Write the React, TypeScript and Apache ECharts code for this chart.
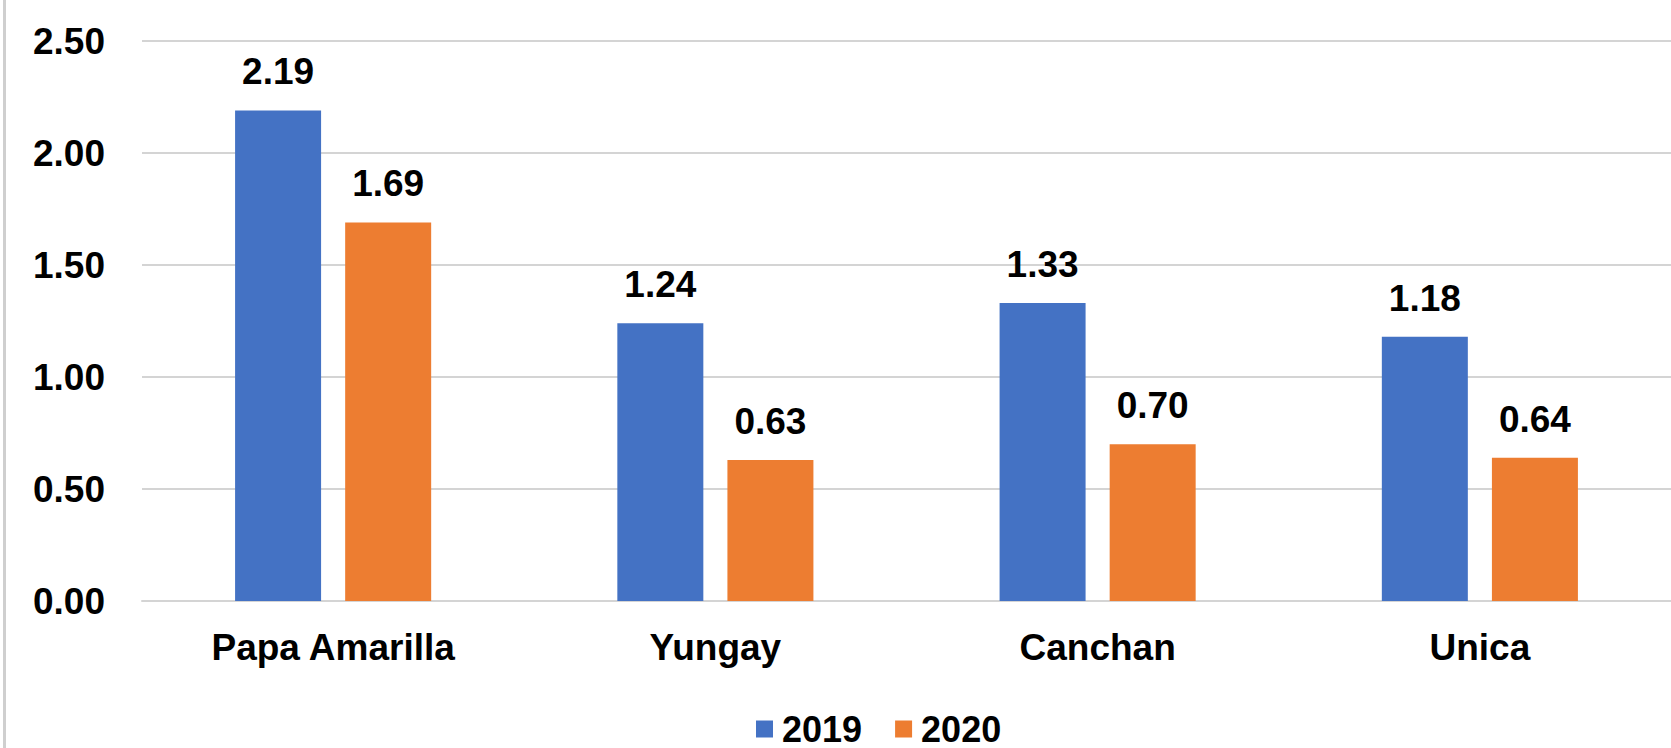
import React, { useEffect, useRef } from "react";
import * as echarts from "echarts";

const categories = ["Papa Amarilla", "Yungay", "Canchan", "Unica"];
const seriesNames = ["2019", "2020"];
const values2019 = [2.19, 1.24, 1.33, 1.18];
const values2020 = [1.69, 0.63, 0.7, 0.64];
const yMin = 0;
const yMax = 2.5;
const yInterval = 0.5;

const FONT = '"Liberation Sans", Arial, sans-serif';

export default function App() {
  const ref = useRef<HTMLDivElement>(null);

  useEffect(() => {
    document.body.style.margin = "0";
    if (!ref.current) return;
    const chart = echarts.init(ref.current, undefined, { renderer: "svg" });
    const labelStyle = {
      show: true,
      position: "top",
      distance: 20,
      fontFamily: FONT,
      fontWeight: "bold",
      fontSize: 37,
      color: "#000",
      formatter: (p: any) => Number(p.value).toFixed(2),
    };
    chart.setOption({
      animation: false,
      backgroundColor: "#ffffff",
      textStyle: { fontFamily: FONT },
      graphic: [
        {
          type: "rect",
          shape: { x: 3, y: 0, width: 3, height: 748 },
          style: { fill: "#cfcfcf" },
          silent: true,
        },
      ],
      legend: {
        left: 751,
        top: 706,
        itemWidth: 17,
        itemHeight: 17,
        itemGap: 33,
        icon: "rect",
        data: seriesNames,
        textStyle: {
          fontFamily: FONT,
          fontWeight: "bold",
          fontSize: 36,
          color: "#000",
          padding: [0, 0, 0, 4],
        },
      },
      grid: {
        left: 142,
        top: 41,
        width: 1548,
        height: 560,
        containLabel: false,
      },
      xAxis: {
        type: "category",
        data: categories,
        axisTick: { show: false },
        axisLine: { show: true, lineStyle: { color: "#d4d4d4", width: 2 } },
        axisLabel: {
          margin: 28,
          fontFamily: FONT,
          fontWeight: "bold",
          fontSize: 37,
          color: "#000",
        },
      },
      yAxis: {
        type: "value",
        min: yMin,
        max: yMax,
        interval: yInterval,
        axisLine: { show: false },
        axisTick: { show: false },
        splitLine: { show: true, lineStyle: { color: "#d4d4d4", width: 2 } },
        axisLabel: {
          margin: 37,
          fontFamily: FONT,
          fontWeight: "bold",
          fontSize: 37,
          color: "#000",
          formatter: (v: number) => v.toFixed(2),
        },
      },
      series: [
        {
          name: seriesNames[0],
          type: "bar",
          data: values2019,
          barWidth: 86,
          barGap: "28%",
          itemStyle: { color: "#4472C4" },
          label: labelStyle,
        },
        {
          name: seriesNames[1],
          type: "bar",
          data: values2020,
          barWidth: 86,
          barGap: "28%",
          itemStyle: { color: "#ED7D31" },
          label: labelStyle,
        },
      ],
    });
    return () => chart.dispose();
  }, []);

  return <div ref={ref} style={{ width: 1671, height: 748 }} />;
}
